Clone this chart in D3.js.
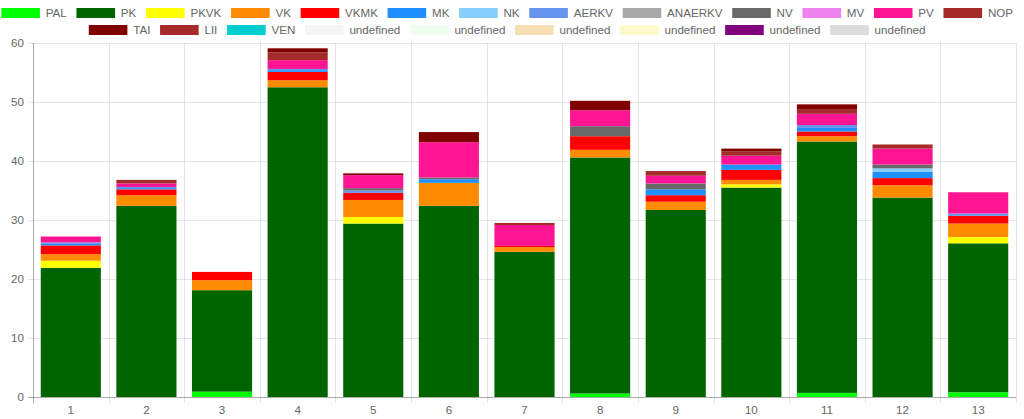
<!DOCTYPE html>
<html>
<head>
<meta charset="utf-8">
<script src="https://cdn.jsdelivr.net/npm/d3@7/dist/d3.min.js"></script>
<style>
  body { margin: 0; background: #fff; }
  svg { display: block; font-family: "Liberation Sans", Arial, Helvetica, sans-serif; }
</style>
</head>
<body>
<div id="chart"></div>
<script>
var categories = ["1", "2", "3", "4", "5", "6", "7", "8", "9", "10", "11", "12", "13"];
var yTicks = [0, 10, 20, 30, 40, 50, 60];

var seriesNames = ["PAL", "PK", "PKVK", "VK", "VKMK", "MK", "NK", "AERKV", "ANAERKV", "NV", "MV", "PV", "NOP",
                   "TAI", "LII", "VEN", "undefined", "undefined", "undefined", "undefined", "undefined", "undefined"];
var seriesColors = ["#00ff00", "#006400", "#ffff00", "#ff8c00", "#ff0000", "#1e90ff", "#87cefa", "#6495ed", "#a9a9a9",
                    "#696969", "#ee82ee", "#ff1493", "#a52a2a", "#800000", "#a52a2a", "#00ced1", "#f5f5f5", "#f0fff0",
                    "#f5deb3", "#fffacd", "#800080", "#dcdcdc"];

var PAL     = [0, 0, 0.9, 0, 0, 0, 0, 0.6, 0, 0, 0.7, 0, 0.8];
var PK      = [21.9, 32.4, 17.2, 52.5, 29.4, 32.4, 24.6, 40.0, 31.7, 35.5, 42.6, 33.8, 25.25];
var PKVK    = [1.2, 0, 0, 0, 1.1, 0, 0, 0, 0, 0.55, 0, 0, 1.05];
var VK      = [1.1, 1.8, 1.7, 1.2, 2.9, 3.9, 0.8, 1.3, 1.4, 0.75, 0.9, 2.1, 2.3];
var VKMK    = [1.5, 1.0, 1.4, 1.4, 1.2, 0, 0.2, 2.3, 1.1, 1.7, 0.8, 1.2, 1.3];
var MK      = [0.25, 0.2, 0, 0.3, 0, 0.6, 0, 0, 1.0, 0.9, 0.6, 1.1, 0];
var NK      = [0, 0, 0, 0, 0, 0, 0, 0, 0, 0, 0, 0.55, 0];
var AERKV   = [0.25, 0.2, 0, 0.2, 0.4, 0, 0, 0, 0, 0, 0.5, 0, 0.4];
var ANAERKV = [0, 0, 0, 0, 0, 0, 0, 0, 0, 0, 0, 0, 0];
var NV      = [0, 0, 0, 0, 0.4, 0.3, 0, 1.7, 1.0, 0, 0, 0.65, 0];
var MV      = [0, 0, 0, 0, 0, 0, 0, 0, 0, 0, 0, 0, 0];
var PV      = [1.0, 0.6, 0, 1.5, 2.2, 6.0, 3.55, 2.7, 1.3, 1.5, 1.9, 2.7, 3.6];
var NOP     = [0, 0.6, 0, 1.3, 0, 0, 0.35, 0, 0.8, 0.7, 0.8, 0.7, 0];
var TAI     = [0, 0, 0, 0.7, 0.3, 1.7, 0, 1.6, 0, 0.5, 0.8, 0, 0];
var LII     = [0, 0, 0, 0, 0, 0, 0, 0, 0, 0, 0, 0, 0];
var VEN     = [0, 0, 0, 0, 0, 0, 0, 0, 0, 0, 0, 0, 0];
var EMPTY   = [0, 0, 0, 0, 0, 0, 0, 0, 0, 0, 0, 0, 0];

var seriesValues = [PAL, PK, PKVK, VK, VKMK, MK, NK, AERKV, ANAERKV, NV, MV, PV, NOP,
                    TAI, LII, VEN, EMPTY, EMPTY, EMPTY, EMPTY, EMPTY, EMPTY];

var w = 1024;
var h = 419;
var margin = { top: 43, right: 8, bottom: 22, left: 33 };
var fontSize = 11.6;
var textColor = "#666";
var gridColor = "rgba(0,0,0,0.1)";

var svg = d3.select("#chart")
            .append("svg")
            .attr("width", w)
            .attr("height", h);

var xScale = d3.scaleBand()
               .domain(categories)
               .range([margin.left, w - margin.right])
               .padding(0);

var yScale = d3.scaleLinear()
               .domain([0, 60])
               .range([h - margin.bottom, margin.top]);

// grid lines
svg.append("g")
   .selectAll("line")
   .data(yTicks)
   .enter()
   .append("line")
   .attr("x1", margin.left - 5)
   .attr("x2", w - margin.right)
   .attr("y1", function(d) { return Math.round(yScale(d)) + 0.5; })
   .attr("y2", function(d) { return Math.round(yScale(d)) + 0.5; })
   .attr("stroke", gridColor);

var xEdges = categories.map(function(c) { return xScale(c); });
xEdges.push(w - margin.right);
svg.append("g")
   .selectAll("line")
   .data(xEdges)
   .enter()
   .append("line")
   .attr("x1", function(d) { return Math.round(d) + 0.5; })
   .attr("x2", function(d) { return Math.round(d) + 0.5; })
   .attr("y1", margin.top)
   .attr("y2", h - margin.bottom + 6)
   .attr("stroke", gridColor);

// stacked bars
var rows = categories.map(function(c, i) {
  var row = { cat: c };
  seriesValues.forEach(function(vals, j) { row["s" + j] = vals[i]; });
  return row;
});
var stack = d3.stack().keys(seriesValues.map(function(v, j) { return "s" + j; }));
var layers = stack(rows);

var barW = xScale.bandwidth() * 0.795;

svg.append("g")
   .selectAll("g")
   .data(layers)
   .enter()
   .append("g")
   .attr("fill", function(d, j) { return seriesColors[j]; })
   .selectAll("rect")
   .data(function(d) { return d.filter(function(p) { return p[1] - p[0] > 0; }); })
   .enter()
   .append("rect")
   .attr("x", function(d) { return xScale(d.data.cat) + (xScale.bandwidth() - barW) / 2; })
   .attr("width", barW)
   .attr("y", function(d) { return yScale(d[1]); })
   .attr("height", function(d) { return yScale(d[0]) - yScale(d[1]); });

// axis lines
svg.append("line")
   .attr("x1", margin.left + 0.5).attr("x2", margin.left + 0.5)
   .attr("y1", margin.top).attr("y2", h - margin.bottom + 6)
   .attr("stroke", "rgba(0,0,0,0.25)");
svg.append("line")
   .attr("x1", margin.left - 5).attr("x2", w - margin.right)
   .attr("y1", Math.round(yScale(0)) + 0.5).attr("y2", Math.round(yScale(0)) + 0.5)
   .attr("stroke", "rgba(0,0,0,0.25)");

// tick labels
svg.append("g")
   .selectAll("text")
   .data(yTicks)
   .enter()
   .append("text")
   .attr("x", margin.left - 9)
   .attr("y", function(d) { return yScale(d); })
   .attr("dy", "0.35em")
   .attr("text-anchor", "end")
   .attr("font-size", fontSize)
   .attr("fill", textColor)
   .text(function(d) { return d; });

svg.append("g")
   .selectAll("text")
   .data(categories)
   .enter()
   .append("text")
   .attr("x", function(d) { return xScale(d) + xScale.bandwidth() / 2; })
   .attr("y", h - margin.bottom + 13)
   .attr("dy", "0.35em")
   .attr("text-anchor", "middle")
   .attr("font-size", fontSize)
   .attr("fill", textColor)
   .text(function(d) { return d; });

// legend, laid out like chart.js: rows centred, wrapped when full
var boxW = 38.6, boxH = 10, gap = 5.8, pad = 9.7;
var rowY = [13, 30];
var legend = svg.append("g");
var measure = legend.append("text").attr("font-size", fontSize);
var items = seriesNames.map(function(name, j) {
  measure.text(name);
  return { name: name, color: seriesColors[j], w: boxW + gap + measure.node().getComputedTextLength() };
});
measure.remove();

var lines = [[]], lineW = [0];
items.forEach(function(it) {
  var k = lines.length - 1;
  if (lineW[k] + it.w + pad > w) { lines.push([]); lineW.push(0); k++; }
  lines[k].push(it);
  lineW[k] += it.w + pad;
});

lines.forEach(function(line, k) {
  var x = (w - lineW[k]) / 2;
  line.forEach(function(it) {
    legend.append("rect")
          .attr("x", x).attr("y", rowY[k] - boxH / 2)
          .attr("width", boxW).attr("height", boxH)
          .attr("fill", it.color);
    legend.append("text")
          .attr("x", x + boxW + gap).attr("y", rowY[k])
          .attr("dy", "0.35em")
          .attr("font-size", fontSize)
          .attr("fill", textColor)
          .text(it.name);
    x += it.w + pad;
  });
});
</script>
</body>
</html>
